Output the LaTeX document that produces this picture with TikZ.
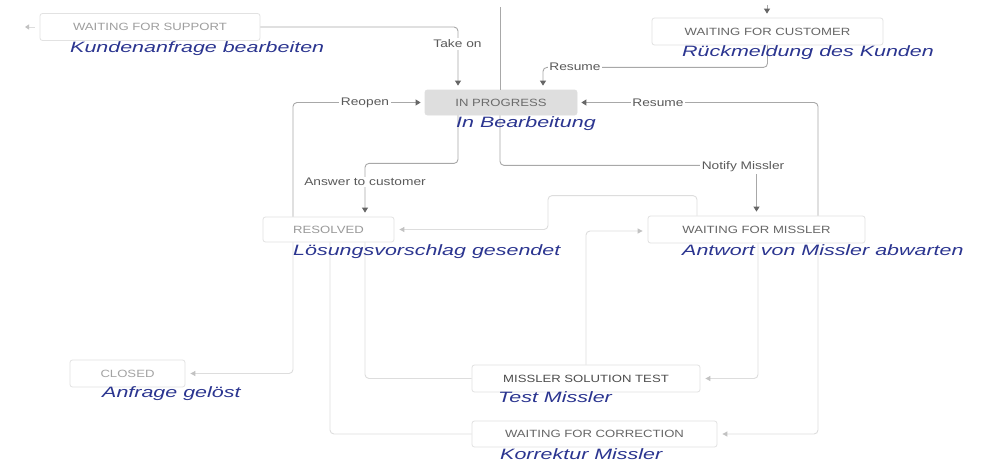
\documentclass[tikz,border=0pt]{standalone}
\usepackage{fontspec}
\setmainfont{Liberation Sans}
\newfontfamily\widesans[FakeStretch=1.25]{Liberation Sans}
\newfontfamily\wideit[FakeStretch=1.43]{Liberation Sans}
\usetikzlibrary{arrows.meta}
\definecolor{lblue}{HTML}{2B3590}
\definecolor{lineA}{HTML}{A8A8A8}
\definecolor{lineB}{HTML}{DDDDDD}
\definecolor{tipA}{HTML}{666666}
\definecolor{tipB}{HTML}{C2C2C2}
\definecolor{boxline}{HTML}{E2E2E2}
\definecolor{progfill}{HTML}{DEDEDE}
\definecolor{lbltext}{HTML}{5A5A5A}
\tikzset{
  state/.style={draw=boxline, line width=0.8pt, rounded corners=2.5pt, fill=white,
    inner sep=0pt, font=\widesans\fontsize{10.5}{12}\selectfont},
  act/.style={draw=lineA, line width=0.9pt, rounded corners=4pt},
  inact/.style={draw=lineB, line width=0.9pt, rounded corners=4pt},
  tipa/.style={-{Triangle[length=5pt,width=6pt,color=tipA]}, shorten >=4pt},
  tipb/.style={-{Triangle[length=5pt,width=5pt,color=tipB]}, shorten >=5pt},
  lbl/.style={fill=white, inner sep=1.5pt, text=lbltext,
    font=\widesans\fontsize{11}{12}\selectfont},
  blab/.style={anchor=base west, inner sep=0pt, text=lblue,
    font=\wideit\itshape\fontsize{15}{16}\selectfont},
}
\begin{document}
\begin{tikzpicture}[x=1pt,y=-1pt]
\fill[white] (0,0) rectangle (996,463);
\useasboundingbox (0,0) rectangle (996,463);

% states
\node[state, minimum width=220pt, minimum height=27pt, text=black!38] (sup) at (150,27) {WAITING FOR SUPPORT};
\node[state, draw=progfill, fill=progfill, minimum width=152pt, minimum height=25pt, text=black!58] (prog) at (501,102.5) {IN PROGRESS};
\node[state, minimum width=231pt, minimum height=27pt, text=black!60] (cust) at (767.5,31.5) {WAITING FOR CUSTOMER};
\node[state, minimum width=131pt, minimum height=25pt, text=black!40] (res) at (328.5,229.5) {RESOLVED};
\node[state, minimum width=217pt, minimum height=27pt, text=black!60] (mis) at (756.5,229.5) {WAITING FOR MISSLER};
\node[state, minimum width=115pt, minimum height=27pt, text=black!36] (closed) at (127.5,373.5) {CLOSED};
\node[state, minimum width=228pt, minimum height=27pt, text=black!70] (test) at (586,378.5) {MISSLER SOLUTION TEST};
\node[state, minimum width=245pt, minimum height=26pt, text=black!60] (corr) at (594.5,434) {WAITING FOR CORRECTION};

% free ends
\coordinate (topA) at (500,7);
\coordinate (topB) at (767,5);
\coordinate (leftA) at (25,27);

% connectors
\draw[act] (topA) -- ([xshift=-1]prog.north);
\draw[act,tipa] (topB) -- ([xshift=-0.5]cust.north);
\draw[inact,-{Triangle[length=4pt,width=5pt,color=tipB]}] ([xshift=-5]sup.west) -- (leftA);
\draw[act,tipa] (sup.east) -| ([xshift=-43]prog.north);
\draw[act,tipa] (cust.south) -- ++(0,22) -| ([xshift=42]prog.north);
\draw[act,tipa] ([xshift=61.5]mis.north) |- (prog.east);
\draw[act,tipa] ([xshift=-35.5]res.north) |- (prog.west);
\draw[act,tipa] ([xshift=-43]prog.south) -- ++(0,48) -| ([xshift=36.5]res.north);
\draw[act,tipa] ([xshift=-1]prog.south) -- ++(0,50) -| (mis.north);
\draw[inact,tipb] ([xshift=-59.5]mis.north) -- ++(0,-20) -- ++(-149,0) |- (res.east);
\draw[inact,tipb] (test.north) |- ([yshift=-1.5]mis.west);
\draw[inact,tipb] ([xshift=1.5]mis.south) |- (test.east);
\draw[inact,tipb] ([xshift=61.5]mis.south) |- (corr.east);
\draw[inact,tipb] ([xshift=-35.5]res.south) |- (closed.east);
\draw[inact] ([xshift=1.5]res.south) |- (corr.west);
\draw[inact] ([xshift=36.5]res.south) |- (test.west);

% connector labels
\node[lbl] (lTake) at (457.5,44) {Take on};
\node[lbl] (lRes1) at (575,67) {Resume};
\node[lbl] (lRes2) at (658,103) {Resume};
\node[lbl] (lReo) at (365,103) {Reopen};
\node[lbl] (lAns) at (365,182) {Answer to customer};
\node[lbl] (lNot) at (743,167) {Notify Missler};

% German descriptions
\node[blab] (tSup) at (70,52) {Kundenanfrage bearbeiten};
\node[blab] (tProg) at (456,127) {In Bearbeitung};
\node[blab] (tCust) at (682,56) {Rückmeldung des Kunden};
\node[blab] (tRes) at (293,255) {Lösungsvorschlag gesendet};
\node[blab] (tMis) at (682,255) {Antwort von Missler abwarten};
\node[blab] (tClosed) at (102,397) {Anfrage gelöst};
\node[blab] (tTest) at (498,402) {Test Missler};
\node[blab] (tCorr) at (500,459) {Korrektur Missler};
\end{tikzpicture}
\end{document}
